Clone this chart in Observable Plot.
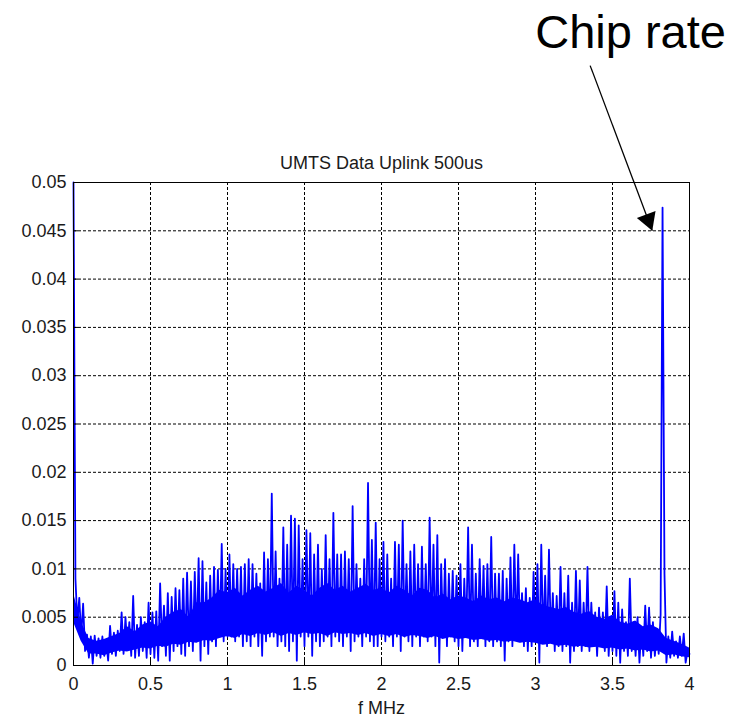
<!DOCTYPE html>
<html><head><meta charset="utf-8">
<script src="https://cdn.jsdelivr.net/npm/d3@7"></script>
<script src="https://cdn.jsdelivr.net/npm/@observablehq/plot@0.6"></script>
<style>html,body{margin:0;padding:0;background:#fff;} svg{display:block}</style>
</head><body><div id="chart"></div>
<script>
// Frequency bin width (MHz) of the spectrum
const binWidthMHz = 0.0125;

// Spectrum magnitude, bins 0 .. 79  (0 – 0.9875 MHz)
const ampBand0 = [
  0.0500,0.0090,0.0045,0.0070,0.0030,0.0064,0.0015,0.0032,0.0008,0.0030,
  0.0002,0.0031,0.0010,0.0028,0.0008,0.0030,0.0010,0.0026,0.0005,0.0041,
  0.0012,0.0034,0.0010,0.0036,0.0015,0.0055,0.0012,0.0050,0.0018,0.0045,
  0.0010,0.0072,0.0008,0.0042,0.0010,0.0050,0.0015,0.0045,0.0008,0.0065,
  0.0012,0.0055,0.0008,0.0056,0.0005,0.0085,0.0020,0.0062,0.0010,0.0075,
  0.0005,0.0071,0.0015,0.0080,0.0020,0.0078,0.0012,0.0090,0.0010,0.0096,
  0.0020,0.0087,0.0015,0.0097,0.0025,0.0111,0.0005,0.0108,0.0020,0.0086,
  0.0012,0.0093,0.0025,0.0102,0.0020,0.0099,0.0030,0.0126,0.0025,0.0100
];
// bins 80 .. 159  (1.0 – 1.9875 MHz)
const ampBand1 = [
  0.0030,0.0115,0.0030,0.0105,0.0025,0.0100,0.0030,0.0102,0.0020,0.0105,
  0.0025,0.0110,0.0020,0.0105,0.0030,0.0095,0.0020,0.0085,0.0010,0.0117,
  0.0025,0.0110,0.0030,0.0178,0.0030,0.0118,0.0020,0.0090,0.0025,0.0143,
  0.0020,0.0125,0.0015,0.0155,0.0025,0.0152,0.0005,0.0145,0.0030,0.0110,
  0.0020,0.0140,0.0030,0.0137,0.0010,0.0115,0.0025,0.0125,0.0020,0.0100,
  0.0025,0.0135,0.0030,0.0110,0.0020,0.0158,0.0030,0.0115,0.0025,0.0115,
  0.0020,0.0118,0.0030,0.0110,0.0015,0.0165,0.0025,0.0105,0.0030,0.0090,
  0.0020,0.0110,0.0030,0.0189,0.0025,0.0130,0.0020,0.0148,0.0020,0.0110
];
// bins 160 .. 239  (2.0 – 2.9875 MHz)
const ampBand2 = [
  0.0030,0.0128,0.0025,0.0115,0.0030,0.0090,0.0020,0.0128,0.0030,0.0125,
  0.0015,0.0150,0.0030,0.0105,0.0025,0.0118,0.0020,0.0125,0.0030,0.0105,
  0.0020,0.0123,0.0030,0.0105,0.0025,0.0153,0.0030,0.0125,0.0020,0.0135,
  0.0003,0.0105,0.0030,0.0110,0.0020,0.0095,0.0030,0.0098,0.0025,0.0093,
  0.0020,0.0105,0.0015,0.0090,0.0030,0.0143,0.0020,0.0125,0.0025,0.0095,
  0.0020,0.0110,0.0030,0.0103,0.0020,0.0105,0.0025,0.0133,0.0020,0.0095,
  0.0025,0.0095,0.0020,0.0098,0.0005,0.0090,0.0025,0.0112,0.0020,0.0125,
  0.0030,0.0115,0.0025,0.0075,0.0020,0.0080,0.0015,0.0070,0.0020,0.0097
];
// bins 240 .. 320  (3.0 – 4.0 MHz), chip-rate line near 3.83 MHz
const ampBand3 = [
  0.0025,0.0105,0.0003,0.0125,0.0025,0.0093,0.0020,0.0120,0.0025,0.0075,
  0.0015,0.0072,0.0020,0.0102,0.0015,0.0075,0.0020,0.0093,0.0003,0.0065,
  0.0015,0.0098,0.0020,0.0088,0.0015,0.0065,0.0020,0.0102,0.0015,0.0065,
  0.0020,0.0055,0.0010,0.0060,0.0020,0.0055,0.0015,0.0082,0.0010,0.0050,
  0.0015,0.0077,0.0010,0.0065,0.0003,0.0058,0.0015,0.0045,0.0010,0.0090,
  0.0015,0.0045,0.0010,0.0050,0.0003,0.0040,0.0010,0.0062,0.0015,0.0060,
  0.0008,0.0045,0.0010,0.0035,0.0012,0.0053,0.0474,0.0095,0.0003,0.0030,
  0.0008,0.0035,0.0010,0.0025,0.0008,0.0030,0.0010,0.0033,0.0003,0.0015,
  0.0012
];

// Dense (solidly filled) part of the noise band, read every 0.05 MHz
const coreFreq = [
  0,0.05,0.1,0.15,0.2,0.25,0.3,0.35,0.4,0.45,0.5,0.55,0.6,0.65,0.7,0.75,0.8,0.85,0.9,0.95,
  1,1.05,1.1,1.15,1.2,1.25,1.3,1.35,1.4,1.45,1.5,1.55,1.6,1.65,1.7,1.75,1.8,1.85,1.9,1.95,
  2,2.05,2.1,2.15,2.2,2.25,2.3,2.35,2.4,2.45,2.5,2.55,2.6,2.65,2.7,2.75,2.8,2.85,2.9,2.95,
  3,3.05,3.1,3.15,3.2,3.25,3.3,3.35,3.4,3.45,3.5,3.55,3.6,3.65,3.7,3.75,3.8,3.85,3.9,3.95,4
];
const coreLow = [
  0.0045,0.0025,0.0012,0.0012,0.0010,0.0013,0.0015,0.0014,0.0016,0.0018,
  0.0017,0.0020,0.0019,0.0022,0.0021,0.0024,0.0023,0.0026,0.0025,0.0028,
  0.0030,0.0028,0.0032,0.0030,0.0033,0.0031,0.0034,0.0030,0.0033,0.0031,
  0.0034,0.0032,0.0033,0.0030,0.0034,0.0032,0.0033,0.0031,0.0033,0.0030,
  0.0032,0.0030,0.0032,0.0029,0.0031,0.0030,0.0028,0.0030,0.0027,0.0029,
  0.0027,0.0028,0.0026,0.0027,0.0025,0.0026,0.0024,0.0025,0.0023,0.0024,
  0.0023,0.0021,0.0022,0.0020,0.0021,0.0019,0.0020,0.0018,0.0019,0.0017,
  0.0018,0.0016,0.0017,0.0015,0.0016,0.0014,0.0015,0.0010,0.0011,0.0009,
  0.0008
];
const coreHigh = [
  0.0075,0.0045,0.0028,0.0025,0.0027,0.0030,0.0033,0.0040,0.0035,0.0042,
  0.0045,0.0040,0.0050,0.0055,0.0058,0.0050,0.0065,0.0065,0.0070,0.0078,
  0.0075,0.0080,0.0072,0.0078,0.0082,0.0076,0.0080,0.0085,0.0075,0.0082,
  0.0078,0.0072,0.0080,0.0085,0.0078,0.0082,0.0076,0.0080,0.0084,0.0078,
  0.0080,0.0075,0.0082,0.0078,0.0072,0.0080,0.0078,0.0070,0.0074,0.0068,
  0.0072,0.0070,0.0066,0.0072,0.0068,0.0070,0.0066,0.0070,0.0068,0.0065,
  0.0068,0.0062,0.0060,0.0058,0.0060,0.0055,0.0053,0.0056,0.0050,0.0048,
  0.0052,0.0045,0.0043,0.0046,0.0040,0.0042,0.0038,0.0028,0.0025,0.0022,
  0.0018
];

const xTicks = [0, 0.5, 1, 1.5, 2, 2.5, 3, 3.5, 4];
const xTickLabels = ["0", "0.5", "1", "1.5", "2", "2.5", "3", "3.5", "4"];
const yTicks = [0, 0.005, 0.01, 0.015, 0.02, 0.025, 0.03, 0.035, 0.04, 0.045, 0.05];
const yTickLabels = ["0", "0.005", "0.01", "0.015", "0.02", "0.025", "0.03", "0.035", "0.04", "0.045", "0.05"];

const titleText = "UMTS Data Uplink 500us";
const xLabelText = "f MHz";
const annotationLabel = [{f: 2.998, v: 0.0655, text: "Chip rate"}];
const annotationArrow = [{f1: 3.355, v1: 0.0621, f2: 3.758, v2: 0.0450}];

const amplitude = [...ampBand0, ...ampBand1, ...ampBand2, ...ampBand3];
const spectrum = amplitude.map((v, i) => ({f: i * binWidthMHz, v}));
const core = coreFreq.map((f, i) => ({f, lo: coreLow[i], hi: coreHigh[i]}));

const fontFamily = '"Liberation Sans", Arial, Helvetica, sans-serif';
const grid = {stroke: "#000", strokeOpacity: 1, strokeWidth: 1, strokeDasharray: "3,2"};
const blue = "#0000ff";

const chart = Plot.plot({
  width: 743,
  height: 717,
  marginLeft: 73,
  marginRight: 54,
  marginTop: 182,
  marginBottom: 52,
  style: {fontFamily, fontSize: "18px", color: "#1a1a1a", background: "#fff", overflow: "visible"},
  x: {domain: [0, 4]},
  y: {domain: [0, 0.05]},
  marks: [
    Plot.gridX(xTicks, grid),
    Plot.gridY(yTicks, grid),
    Plot.areaY(core, {x: "f", y1: "lo", y2: "hi", fill: blue}),
    Plot.line(spectrum, {x: "f", y: "v", stroke: blue, strokeWidth: 1.8}),
    Plot.frame({stroke: "#000", strokeWidth: 1}),
    Plot.axisX(xTicks, {tickSize: -5, tickPadding: 17, stroke: "#000",
      tickFormat: d => xTickLabels[xTicks.indexOf(d)], label: null, fontSize: 18}),
    Plot.axisY(yTicks, {tickSize: -5, tickPadding: 12, stroke: "#000",
      tickFormat: d => yTickLabels[yTicks.indexOf(d)], label: null, fontSize: 18}),
    Plot.text([titleText], {text: d => d, frameAnchor: "top", lineAnchor: "bottom", dy: -14, fontSize: 18, fill: "#1a1a1a"}),
    Plot.text([xLabelText], {text: d => d, frameAnchor: "bottom", lineAnchor: "bottom", dy: 48, fontSize: 18, fill: "#1a1a1a"}),
    Plot.text(annotationLabel, {x: "f", y: "v", text: "text", textAnchor: "start", fontSize: 47, fill: "#000"}),
    Plot.link(annotationArrow, {x1: "f1", y1: "v1", x2: "f2", y2: "v2", stroke: "#000", strokeWidth: 1.3}),
    Plot.dot(annotationArrow, {x: "f2", y: "v2", symbol: "triangle", r: 7.4, fill: "#000", stroke: null,
      rotate: 159.4, dx: -4, dy: -10.8})
  ]
});
document.getElementById("chart").appendChild(chart);
</script>
</body></html>
